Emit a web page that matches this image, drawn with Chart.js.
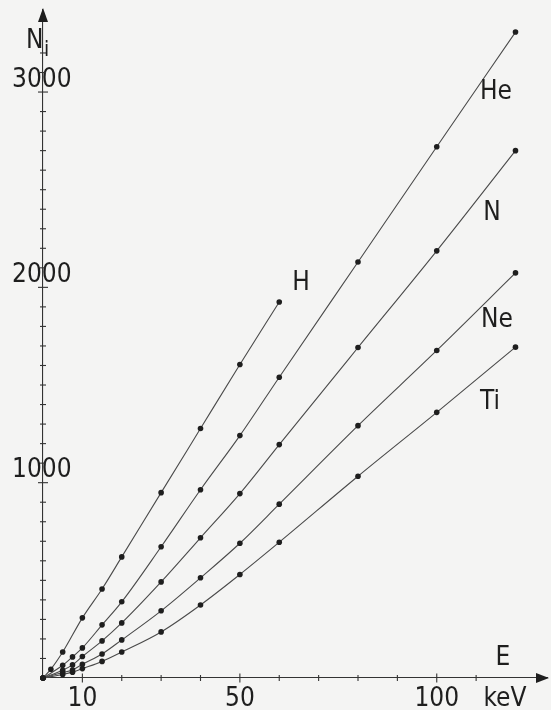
<!DOCTYPE html>
<html>
<head>
<meta charset="utf-8">
<script src="https://cdn.jsdelivr.net/npm/chart.js@4/dist/chart.umd.min.js"></script>
<style>
  html, body { margin: 0; padding: 0; background: #f4f4f3; }
  #wrap { width: 551px; height: 710px; }
</style>
</head>
<body>
<div id="wrap"><canvas id="ionChart" width="551" height="710"></canvas></div>
<script>
// energy in keV, N_i
const energyH = [0, 2, 5, 10, 15, 20, 30, 40, 50, 60];
const countsH = [0, 45, 133, 308, 456, 620, 949, 1277, 1605, 1925];

const energyHeavy = [0, 5, 7.5, 10, 15, 20, 30, 40, 50, 60, 80, 100, 120];
const countsHe = [0, 65, 108, 154, 272, 390, 672, 964, 1241, 1540, 2130, 2720, 3307];
const countsN  = [0, 40, 67, 110, 190, 282, 492, 718, 944, 1195, 1692, 2187, 2700];
const countsNe = [0, 28, 41, 70, 123, 195, 344, 513, 690, 890, 1292, 1677, 2074];
const countsTi = [0, 18, 30, 48, 85, 133, 236, 374, 530, 695, 1033, 1360, 1694];

const xLabels = [10, 50, 100];
const yLabels = [1000, 2000, 3000];
const ionNames = ['H', 'He', 'N', 'Ne', 'Ti'];

const FONT = '"DejaVu Sans Condensed", "Liberation Sans Narrow", "Liberation Sans", sans-serif';
const INK = '#1e1e1e';

function pts(xs, ys) {
  return xs.map((e, i) => ({ x: e, y: ys[i] }));
}

function series(label, xs, ys) {
  return {
    label: label,
    data: pts(xs, ys),
    borderColor: '#4a4a4a',
    borderWidth: 1.1,
    pointRadius: 2.8,
    pointBackgroundColor: INK,
    pointBorderWidth: 0,
    cubicInterpolationMode: 'monotone',
    clip: 6
  };
}

// label anchors in pixels (where the names sit on the plot)
const namePos = { H: [301, 283], He: [496, 92], N: [492, 213], Ne: [497, 320], Ti: [490, 402] };

const axisDecor = {
  id: 'axisDecor',
  afterDraw(chart) {
    const { ctx, scales: { x, y }, chartArea: a } = chart;
    ctx.save();
    ctx.strokeStyle = '#333';
    ctx.fillStyle = INK;
    ctx.lineWidth = 1.1;

    // tick marks crossing the axes
    x.ticks.forEach(t => {
      if (t.value <= 0 || t.value > 120 || t.value % 10 !== 0) return;
      const px = x.getPixelForValue(t.value);
      const h = xLabels.includes(t.value) ? 4.5 : 3;
      ctx.beginPath(); ctx.moveTo(px, a.bottom - h); ctx.lineTo(px, a.bottom + h); ctx.stroke();
    });
    y.ticks.forEach(t => {
      if (t.value <= 0 || t.value > 3200 || t.value % 100 !== 0) return;
      const py = y.getPixelForValue(t.value);
      const w = yLabels.includes(t.value) ? 5 : 3;
      ctx.beginPath(); ctx.moveTo(a.left - w, py); ctx.lineTo(a.left + w, py); ctx.stroke();
    });

    // arrow heads
    ctx.beginPath();
    ctx.moveTo(a.left, a.top - 2); ctx.lineTo(a.left - 5, a.top + 12); ctx.lineTo(a.left + 5, a.top + 12);
    ctx.closePath(); ctx.fill();
    ctx.beginPath();
    ctx.moveTo(a.right + 2, a.bottom); ctx.lineTo(a.right - 11, a.bottom - 5); ctx.lineTo(a.right - 11, a.bottom + 5);
    ctx.closePath(); ctx.fill();

    // axis names
    ctx.textBaseline = 'middle';
    ctx.textAlign = 'left';
    ctx.font = '26px ' + FONT;
    ctx.fillText('N', 26, 41);
    ctx.font = '21px ' + FONT;
    ctx.fillText('i', 44, 51);
    ctx.font = '26px ' + FONT;
    ctx.textAlign = 'center';
    ctx.fillText('E', 503, 658);
    ctx.fillText('keV', 505, 699);

    // curve names
    ionNames.forEach(n => {
      const p = namePos[n];
      ctx.fillText(n, p[0], p[1]);
    });
    ctx.restore();
  }
};

new Chart(document.getElementById('ionChart'), {
  type: 'line',
  data: {
    datasets: [
      series('H', energyH, countsH),
      series('He', energyHeavy, countsHe),
      series('N', energyHeavy, countsN),
      series('Ne', energyHeavy, countsNe),
      series('Ti', energyHeavy, countsTi)
    ]
  },
  options: {
    responsive: false,
    animation: false,
    layout: { padding: { top: 10, right: 2, bottom: 0, left: 0 } },
    plugins: { legend: { display: false }, tooltip: { enabled: false } },
    scales: {
      x: {
        type: 'linear',
        min: 0,
        max: 128,
        afterFit: s => { s.height = 32; },
        grid: { display: false, drawTicks: false },
        border: { display: true, color: '#333', width: 1.1 },
        ticks: {
          stepSize: 10,
          autoSkip: false,
          maxRotation: 0,
          padding: 0,
          color: INK,
          font: { family: FONT, size: 26, lineHeight: 1.6 },
          callback: v => xLabels.includes(v) ? String(v) : ''
        }
      },
      y: {
        type: 'linear',
        min: 0,
        max: 3420,
        afterFit: s => { s.width = 43; },
        grid: { display: false, drawTicks: false },
        border: { display: true, color: '#333', width: 1.1 },
        ticks: {
          stepSize: 100,
          autoSkip: false,
          mirror: true,
          crossAlign: 'center',
          padding: -31,
          labelOffset: -12,
          color: INK,
          font: { family: FONT, size: 26 },
          callback: v => yLabels.includes(v) ? String(v) : ''
        }
      }
    }
  },
  plugins: [axisDecor]
});
</script>
</body>
</html>
